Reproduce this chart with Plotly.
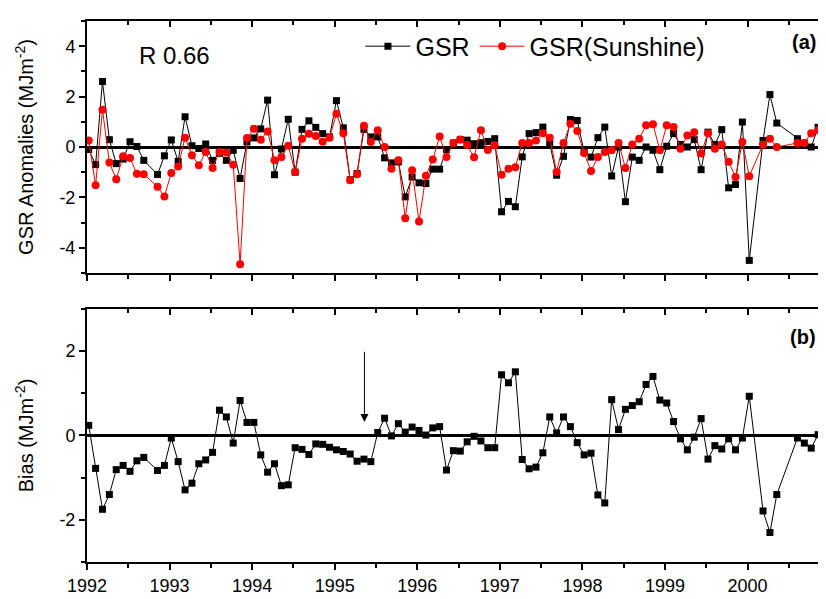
import plotly.graph_objects as go

# ---------------- data (monthly, Jan 1992 .. Dec 2000; None = missing month) ----------------
start_year = 1992
month_index = list(range(108))

gsr = [-0.10, -0.70, 2.60, 0.29, -0.66, -0.48, 0.21, 0.02, -0.53, None,
       -1.09, -0.35, 0.28, -0.57, 1.20, 0.05, -0.06, 0.12, -0.53, -0.25,
       -0.53, -0.13, -1.25, 0.20, 0.36, 0.72, 1.86, -1.10, -0.08, 1.10,
       -1.00, 0.70, 1.04, 0.78, 0.53, 0.40, 1.84, 0.76, -1.30, -1.05,
       0.70, 0.40, 0.40, -0.43, -0.63, -0.59, -1.98, -1.19, -1.42, -1.45,
       -0.88, -0.88, -0.10, 0.16, 0.29, 0.27, 0.13, 0.17, 0.22, 0.33,
       -2.57, -2.16, -2.37, -0.39, 0.53, 0.57, 0.79, 0.13, -1.12, -0.37,
       1.09, 1.05, -0.20, -0.40, 0.37, 0.79, -1.15, 0.00, -2.17, -0.40,
       -0.53, 0.00, -0.13, -0.90, 0.03, 0.53, 0.10, 0.00, 0.29, -0.90,
       0.59, 0.10, 0.69, -1.62, -1.49, 0.99, -4.50, None, 0.26, 2.08,
       0.95, None, None, 0.33, 0.15, 0.00, 0.78, -0.10]

gsr_sunshine = [0.26, -1.52, 1.48, -0.62, -1.28, -0.37, -0.44, -1.06, -1.08, None,
                -1.58, -1.96, -1.03, -0.77, 0.37, -0.33, -0.72, -0.20, -0.83, -0.20,
                -0.22, -0.70, -4.65, 0.36, 0.72, 0.29, 0.62, -0.53, -0.40, 0.05,
                -0.99, 0.33, 0.53, 0.44, 0.21, 0.37, 1.32, 0.55, -1.32, -1.08,
                0.84, 0.20, 0.66, 0.00, -0.86, -0.53, -2.83, -0.92, -2.96, -1.14,
                -0.50, 0.42, -0.40, 0.16, 0.30, 0.08, -0.41, 0.66, -0.12, 0.07,
                -1.10, -0.86, -0.80, 0.16, 0.16, 0.26, 0.55, 0.37, -0.99, 0.16,
                0.92, 0.63, -0.24, -0.95, -0.40, -0.20, -0.13, 0.16, -0.83, 0.10,
                0.33, 0.86, 0.90, -0.13, 0.86, 0.79, -0.07, 0.46, 0.59, -0.26,
                0.55, -0.07, 0.10, -0.59, -1.19, 0.20, -1.16, None, 0.10, 0.33,
                0.00, None, None, 0.16, 0.16, 0.55, 0.66, -0.15]

bias = [0.24, -0.78, -1.75, -1.40, -0.81, -0.71, -0.85, -0.60, -0.52, None,
        -0.83, -0.71, -0.06, -0.62, -1.29, -1.13, -0.67, -0.58, -0.40, 0.60,
        0.44, -0.18, 0.83, 0.31, 0.31, -0.46, -0.87, -0.67, -1.19, -1.17,
        -0.29, -0.33, -0.45, -0.20, -0.21, -0.28, -0.34, -0.38, -0.44, -0.61,
        -0.56, -0.62, 0.07, 0.41, -0.01, 0.28, 0.08, 0.20, 0.12, 0.01,
        0.18, 0.21, -0.82, -0.36, -0.37, -0.15, -0.02, -0.13, -0.29, -0.29,
        1.44, 1.25, 1.51, -0.57, -0.79, -0.75, -0.41, 0.44, 0.06, 0.44,
        0.21, -0.17, -0.46, -0.42, -1.41, -1.60, 0.85, 0.14, 0.62, 0.71,
        0.80, 1.21, 1.40, 0.84, 0.77, 0.33, -0.08, -0.34, -0.04, 0.40,
        -0.56, -0.24, -0.32, -0.08, -0.34, -0.06, 0.93, None, -1.79, -2.30,
        -1.40, None, None, -0.06, -0.18, -0.30, 0.02, -0.18]

top_ticks = [-4, -2, 0, 2, 4]
bottom_ticks = [-2, 0, 2]
r_text = "R 0.66"
arrow_year = 1995.36
arrow_from, arrow_to = 2.02, 0.32

x = [start_year + (m + 0.25) / 12 for m in month_index]

FONT = "Arial, 'Liberation Sans', sans-serif"
XR = [1992, 2000.95]

fig = go.Figure()
fig.add_trace(go.Scatter(x=x, y=gsr, name="GSR", xaxis="x2", yaxis="y2",
                         mode="lines+markers", connectgaps=True,
                         line=dict(color="black", width=1),
                         marker=dict(symbol="square", size=7, color="black")))
fig.add_trace(go.Scatter(x=x, y=gsr_sunshine, name="GSR(Sunshine)", xaxis="x2", yaxis="y2",
                         mode="lines+markers", connectgaps=True,
                         line=dict(color="#ff0000", width=1),
                         marker=dict(symbol="circle", size=8, color="#ff0000")))
fig.add_trace(go.Scatter(x=x, y=bias, name="Bias", xaxis="x", yaxis="y", showlegend=False,
                         mode="lines+markers", connectgaps=True,
                         line=dict(color="black", width=1),
                         marker=dict(symbol="square", size=7, color="black")))

# empty traces so that the frame axes (top / right) of each panel get drawn
for xa, ya in [("x3", "y"), ("x4", "y2"), ("x", "y3"), ("x2", "y4")]:
    fig.add_trace(go.Scatter(x=[], y=[], xaxis=xa, yaxis=ya, showlegend=False,
                             hoverinfo="skip", mode="markers"))

def labels(v):
    return [str(t) for t in v]

tick_font = dict(family=FONT, size=18, color="black")
minor_out = dict(tick0=1992, dtick=0.5, ticks="outside", ticklen=4, tickwidth=1.5, tickcolor="black")
minor_in = dict(tick0=1992, dtick=0.5, ticks="inside", ticklen=4, tickwidth=1.5, tickcolor="black")
common_x = dict(range=XR, tickmode="linear", tick0=1992, dtick=1, tickformat="d",
                showgrid=False, zeroline=False, linecolor="black", linewidth=2,
                tickcolor="black", tickwidth=1.5, ticklen=6, automargin=False,
                tickfont=tick_font)

top_dom = [0.5342, 1.0]
bot_dom = [0.0, 0.4677]

# the page body adds an 8px offset, so the figure is 8px smaller than the window
fig.update_layout(
    width=818, height=591,
    margin=dict(l=79, r=0, t=13, b=37, autoexpand=False),
    paper_bgcolor="white", plot_bgcolor="white",
    font=dict(family=FONT, color="black"),
    xaxis=dict(domain=[0, 1], anchor="y", showline=True, ticks="outside",
               minor=minor_out, **common_x),
    xaxis2=dict(domain=[0, 1], anchor="y2", matches="x", showline=True, ticks="outside",
                showticklabels=False, minor=minor_out, **common_x),
    xaxis3=dict(overlaying="x", anchor="y", side="top", showline=True, ticks="inside",
                showticklabels=False, minor=minor_in, **common_x),
    xaxis4=dict(overlaying="x2", anchor="y2", side="top", showline=True, ticks="inside",
                showticklabels=False, minor=minor_in, **common_x),
    yaxis=dict(domain=bot_dom, anchor="x", range=[-3, 3], automargin=False,
               tickmode="array", tickvals=bottom_ticks, ticktext=labels(bottom_ticks),
               ticks="outside", ticklen=6, tickwidth=1.5, tickcolor="black",
               minor=dict(tick0=1, dtick=2, ticks="outside", ticklen=4,
                          tickwidth=1.5, tickcolor="black"),
               showline=True, linecolor="black", linewidth=2, showgrid=False,
               zeroline=True, zerolinecolor="black", zerolinewidth=2.5,
               tickfont=tick_font,
               title=dict(text="Bias (MJm<sup>-2</sup>)",
                          font=dict(family=FONT, size=20, color="black"), standoff=20)),
    yaxis2=dict(domain=top_dom, anchor="x2", range=[-5, 5], automargin=False,
                tickmode="array", tickvals=top_ticks, ticktext=labels(top_ticks),
                ticks="outside", ticklen=6, tickwidth=1.5, tickcolor="black",
                minor=dict(tick0=1, dtick=2, ticks="outside", ticklen=4,
                           tickwidth=1.5, tickcolor="black"),
                showline=True, linecolor="black", linewidth=2, showgrid=False,
                zeroline=True, zerolinecolor="black", zerolinewidth=2.5,
                tickfont=tick_font,
                title=dict(text="GSR Anomalies (MJm<sup>-2</sup>)",
                           font=dict(family=FONT, size=20, color="black"), standoff=20)),
    yaxis3=dict(overlaying="y", anchor="x", side="right", range=[-3, 3], automargin=False,
                tickmode="array", tickvals=bottom_ticks, showticklabels=False,
                ticks="inside", ticklen=6, tickwidth=1.5, tickcolor="black",
                minor=dict(tick0=1, dtick=2, ticks="inside", ticklen=4,
                           tickwidth=1.5, tickcolor="black"),
                showline=False, showgrid=False, zeroline=False),
    yaxis4=dict(overlaying="y2", anchor="x2", side="right", range=[-5, 5], automargin=False,
                tickmode="array", tickvals=top_ticks, showticklabels=False,
                ticks="inside", ticklen=6, tickwidth=1.5, tickcolor="black",
                minor=dict(tick0=1, dtick=2, ticks="inside", ticklen=4,
                           tickwidth=1.5, tickcolor="black"),
                showline=False, showgrid=False, zeroline=False),
    legend=dict(orientation="h", x=0.37, y=0.953, xanchor="left", yanchor="middle",
                bgcolor="rgba(0,0,0,0)", borderwidth=0, itemwidth=45,
                font=dict(family=FONT, size=25, color="black")),
    showlegend=True,
)

fig.add_annotation(text=r_text, xref="paper", yref="paper", x=0.0677, y=0.937,
                   xanchor="left", yanchor="middle", showarrow=False,
                   font=dict(family=FONT, size=24, color="black"))
fig.add_annotation(text="<b>(a)</b>", xref="paper", yref="paper", x=0.989, y=0.9617,
                   xanchor="right", yanchor="middle", showarrow=False,
                   font=dict(family=FONT, size=20, color="black"))
fig.add_annotation(text="<b>(b)</b>", xref="paper", yref="paper", x=0.9895, y=0.4165,
                   xanchor="right", yanchor="middle", showarrow=False,
                   font=dict(family=FONT, size=20, color="black"))
fig.add_annotation(x=arrow_year, y=arrow_to, ax=arrow_year, ay=arrow_from,
                   xref="x", yref="y", axref="x", ayref="y", text="",
                   showarrow=True, arrowhead=2, arrowsize=1.6, arrowwidth=1,
                   arrowcolor="black")

fig.write_html("out.html")
